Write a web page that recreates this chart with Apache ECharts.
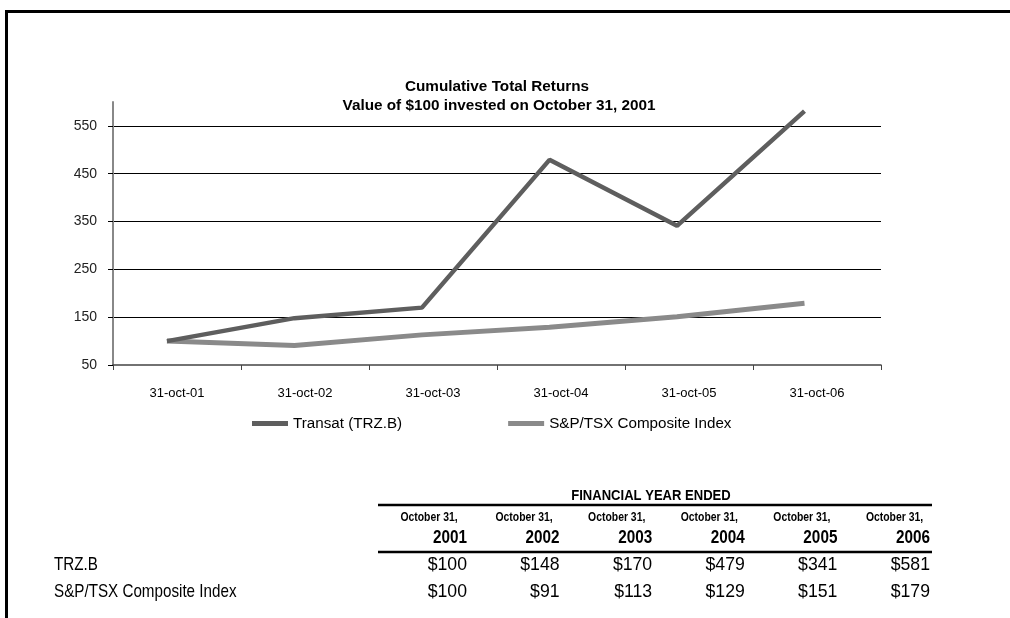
<!DOCTYPE html>
<html>
<head>
<meta charset="utf-8">
<script src="https://cdn.jsdelivr.net/npm/echarts@6/dist/echarts.min.js"></script>
<style>
  html, body { margin: 0; padding: 0; background: #fff; }
  #frame { position: absolute; left: 5px; top: 10px; width: 1010px; height: 620px;
           border-left: 3px solid #000; border-top: 3px solid #000; }
  #chart { position: absolute; left: 0; top: 0; width: 1010px; height: 618px; }
</style>
</head>
<body>
<div id="frame"></div>
<div id="chart"></div>
<script>
// ---- data ----
const categories = ['31-oct-01', '31-oct-02', '31-oct-03', '31-oct-04', '31-oct-05', '31-oct-06'];
const trzValues = [100, 148, 170, 479, 341, 581];
const spValues = [100, 91, 113, 129, 151, 179];
const seriesNames = ['Transat (TRZ.B)', 'S&P/TSX Composite Index'];
const tableRowLabels = ['TRZ.B', 'S&P/TSX Composite Index'];
const tableYears = ['2001', '2002', '2003', '2004', '2005', '2006'];
const tableDateLabel = 'October 31,';
const tableHeader = 'FINANCIAL YEAR ENDED';
const titleLine1 = 'Cumulative Total Returns';
const titleLine2 = 'Value of $100 invested on October 31, 2001';

// ---- style ----
const FONT = "'Liberation Sans', Arial, sans-serif";
const C_TRZ = '#5e5e5e';
const C_SP = '#8a8a8a';

// ---- table graphics (horizontally condensed text) ----
function txt(text, x, y, size, weight, align, sx) {
  return { type: 'text', x: x, y: y, scaleX: sx, scaleY: 1,
    style: { text: text, x: 0, y: 0, align: align, verticalAlign: 'middle',
      fontFamily: FONT, fontSize: size, fontWeight: weight, fill: '#000' } };
}
const colRight0 = 467, colStep = 92.6;
const tableGraphics = [];
tableGraphics.push(txt(tableHeader, 651, 496, 15, 'bold', 'center', 0.87));
tableGraphics.push({ type: 'line', shape: { x1: 378, y1: 505, x2: 932, y2: 505 }, style: { stroke: '#000', lineWidth: 2.5 } });
tableGraphics.push({ type: 'line', shape: { x1: 378, y1: 552, x2: 932, y2: 552 }, style: { stroke: '#000', lineWidth: 2.5 } });
tableYears.forEach((yr, i) => {
  const r = colRight0 + colStep * i;
  tableGraphics.push(txt(tableDateLabel, r - (i === 0 ? 38 : 35.5), 517, 13, 'bold', 'center', 0.8));
  tableGraphics.push(txt(yr, r, 538, 18, 'bold', 'right', 0.85));
});
[trzValues, spValues].forEach((vals, row) => {
  const y = 565 + row * 27;
  tableGraphics.push(txt(tableRowLabels[row], 54, y, 19, 'normal', 'left', 0.8));
  vals.forEach((v, i) => {
    tableGraphics.push(txt('$' + v, colRight0 + colStep * i, y, 19, 'normal', 'right', 0.93));
  });
});

const chart = echarts.init(document.getElementById('chart'), null, { renderer: 'canvas' });
chart.setOption({
  animation: false,
  backgroundColor: 'transparent',
  title: [
    { text: titleLine1, left: 492, top: 74, textAlign: 'center',
      textStyle: { fontFamily: FONT, fontSize: 15.3, fontWeight: 'bold', color: '#000' } },
    { text: titleLine2, left: 494, top: 93, textAlign: 'center',
      textStyle: { fontFamily: FONT, fontSize: 15.3, fontWeight: 'bold', color: '#000' } }
  ],
  legend: {
    left: 252, top: 416, padding: 0, itemWidth: 36, itemHeight: 5, itemGap: 106, icon: 'rect',
    textStyle: { fontFamily: FONT, fontSize: 15.2, color: '#000' },
    data: seriesNames
  },
  grid: { left: 113, right: 129, top: 102, bottom: 253, containLabel: false },
  xAxis: [
    { type: 'category', data: categories, boundaryGap: true,
      axisLine: { onZero: false, lineStyle: { color: '#444', width: 1.5 } },
      axisTick: { show: true, length: 5, lineStyle: { color: '#444' } },
      axisLabel: { margin: 22, fontFamily: FONT, fontSize: 13, color: '#000' },
      splitLine: { show: false } },
    { type: 'value', show: false, min: -0.423, max: 5.6, position: 'bottom' }
  ],
  yAxis: {
    type: 'value', min: 50, max: 600, interval: 100,
    axisLine: { show: true, onZero: false, lineStyle: { color: '#888', width: 2 } },
    axisTick: { show: true, length: 5, lineStyle: { color: '#000' } },
    axisLabel: { margin: 16, fontFamily: FONT, fontSize: 14, color: '#222', showMaxLabel: false },
    splitLine: { show: true, showMinLine: false, showMaxLine: false, lineStyle: { color: '#000', width: 1 } }
  },
  series: [
    { name: seriesNames[0], type: 'line', xAxisIndex: 1, data: trzValues.map((v, i) => [i, v]),
      symbol: 'none', lineStyle: { color: C_TRZ, width: 4.5 }, itemStyle: { color: C_TRZ }, z: 3 },
    { name: seriesNames[1], type: 'line', xAxisIndex: 1, data: spValues.map((v, i) => [i, v]),
      symbol: 'none', lineStyle: { color: C_SP, width: 5 }, itemStyle: { color: C_SP }, z: 2 }
  ],
  graphic: tableGraphics
});
</script>
</body>
</html>
